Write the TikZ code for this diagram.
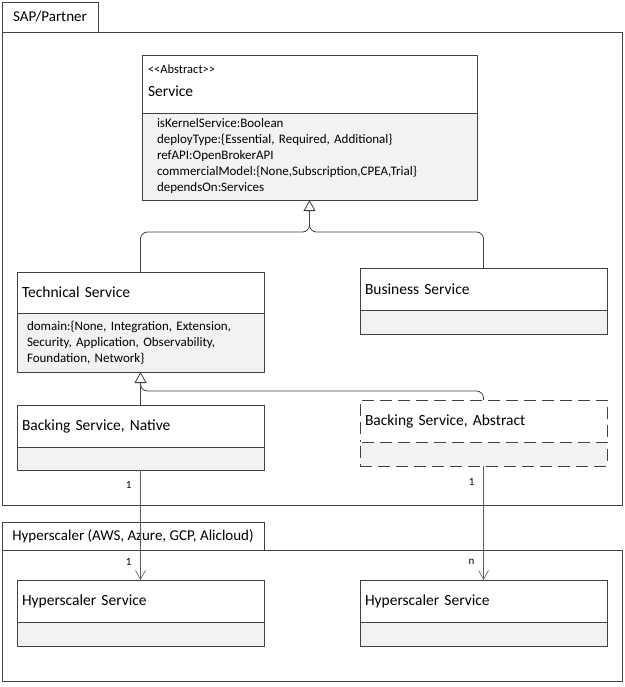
\documentclass[tikz,border=0pt]{standalone}
\usepackage{fontspec}
\setmainfont{Carlito}
\usetikzlibrary{positioning,arrows.meta}
\definecolor{umlline}{HTML}{404040}
\definecolor{umlfill}{HTML}{F2F2F2}
\begin{document}
\begin{tikzpicture}[x=1pt, y=-1pt,
    every node/.style={outer sep=0pt},
    pkg/.style={draw=umlline, line width=0.9pt, anchor=north west, minimum width=620pt},
    pkgtab/.style={draw=umlline, line width=0.9pt, anchor=north west, font=\fontsize{15}{17}\selectfont},
    cname/.style={rectangle, draw=umlline, line width=0.8pt, fill=white, anchor=north west, align=left,
                  inner xsep=5pt, inner ysep=0pt, text width=237pt, minimum height=42pt, font=\fontsize{15.5}{18}\selectfont},
    cattr/.style={rectangle, draw=umlline, line width=0.8pt, fill=umlfill, align=left,
                  inner xsep=10pt, inner ysep=0pt, text width=227pt, minimum height=24pt, font=\fontsize{13}{16}\selectfont},
    abstractbox/.style={dash pattern=on 12pt off 6pt},
    gen/.style={draw=umlline, line width=0.8pt, rounded corners=7pt},
    genhead/.style={-{Triangle[open, length=11pt, width=12pt]}},
    assoc/.style={draw=umlline!85, line width=0.6pt, -{Straight Barb[length=9pt, width=10pt]}},
    mult/.style={font=\fontsize{11}{12}\selectfont, left=9pt, inner sep=0pt}
]
\useasboundingbox (0,0) rectangle (624,687);

% packages
\node[pkgtab, minimum width=96pt, minimum height=30pt] (saptab) at (2,2) {SAP/Partner};
\node[pkg, minimum height=473pt] (sap) at (2,32) {};
\node[pkgtab, minimum width=262pt, minimum height=28pt] (hyptab) at (2,522) {Hyperscaler (AWS, Azure, GCP, Alicloud)};
\node[pkg, minimum height=131pt] (hyp) at (2,550) {};

% classes
\node[cname, inner xsep=6pt, text width=323pt, minimum height=58pt] (svc) at (142,55)
    {{\fontsize{12.5}{14}\selectfont <\kern0pt<Abstract>\kern0pt>}\\[5pt] Service\\[-12pt]\mbox{}};
\node[cattr, inner xsep=15pt, text width=305pt, minimum height=87pt] (svcattr) [below=0pt of svc]
    {isKernelService:Boolean\\
     deployType:\{Essential, Required, Additional\}\\
     refAPI:OpenBrokerAPI\\
     commercialModel:\{None,Subscription,CPEA,Trial\}\\
     dependsOn:Services};

\node[cname, minimum height=41pt] (tech) at (17,272) {Technical Service};
\node[cattr, minimum height=59pt] (techattr) [below=0pt of tech]
    {domain:\{None, Integration, Extension,\\ Security, Application, Observability,\\ Foundation, Network\}};

\node[cname] (biz) at (360,268) {Business Service};
\node[cattr] (bizattr) [below=0pt of biz] {};

\node[cname] (native) at (17,405) {Backing Service, Native};
\node[cattr, minimum height=23pt] (nativeattr) [below=0pt of native] {};

\node[cname, abstractbox] (abstract) at (360,400) {Backing Service, Abstract};
\node[cattr, abstractbox] (abstractattr) [below=0pt of abstract] {};

\node[cname] (hyperone) at (17,580) {Hyperscaler Service};
\node[cattr] (hyperoneattr) [below=0pt of hyperone] {};

\node[cname] (hypertwo) at (360,580) {Hyperscaler Service};
\node[cattr] (hypertwoattr) [below=0pt of hypertwo] {};

% generalizations
\path (svcattr.south) ++(0,32) coordinate (j1);
\draw[gen, genhead] (tech.north) |- (j1) -- (svcattr.south);
\draw[gen] (biz.north) |- (j1) -- ++(0,-8);

\path (techattr.south) ++(0,19) coordinate (j2);
\draw[gen, genhead] (native.north) -- (techattr.south);
\draw[gen] (abstract.north) |- (j2) -- ++(0,-8);

% associations
\draw[assoc] (nativeattr.south) -- node[mult, pos=0.14] {1} node[mult, pos=0.84] {1} (hyperone.north);
\draw[assoc] (abstractattr.south) -- node[mult, pos=0.14] {1} node[mult, pos=0.84] {n} (hypertwo.north);
\end{tikzpicture}
\end{document}
